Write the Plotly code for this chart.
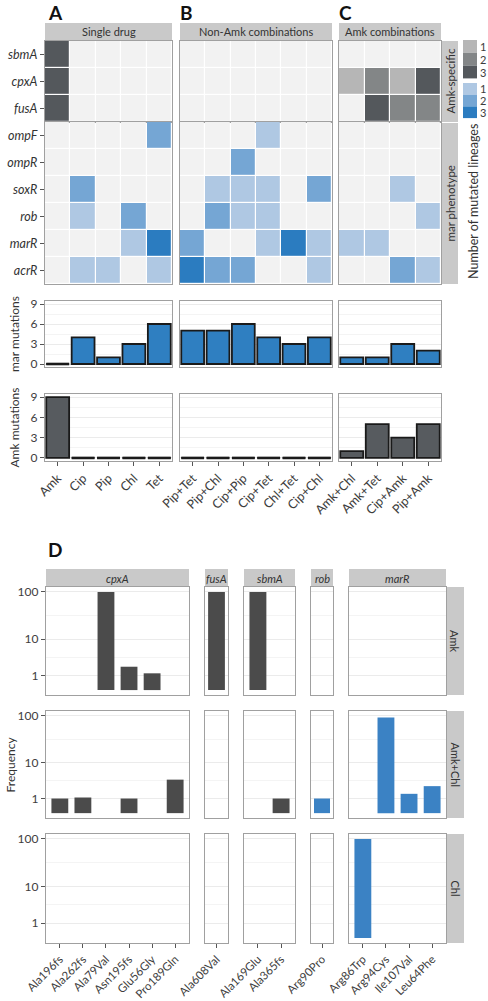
import numpy as np
import plotly.graph_objects as go

W, H = 488, 1001
FONT = "Lato"

# ---------------- data: panels A-C ----------------
single_drugs = ["Amk", "Cip", "Pip", "Chl", "Tet"]
nonamk_combos = ["Pip+Tet", "Pip+Chl", "Cip+Pip", "Cip+Tet", "Chl+Tet", "Cip+Chl"]
amk_combos = ["Amk+Chl", "Amk+Tet", "Cip+Amk", "Pip+Amk"]

amk_genes = ["sbmA", "cpxA", "fusA"]
mar_genes = ["ompF", "ompR", "soxR", "rob", "marR", "acrR"]

# number of mutated lineages (rows = genes, columns = treatments)
amk_single = [[3, 0, 0, 0, 0],
              [3, 0, 0, 0, 0],
              [3, 0, 0, 0, 0]]
mar_single = [[0, 0, 0, 0, 2],
              [0, 0, 0, 0, 0],
              [0, 2, 0, 0, 0],
              [0, 1, 0, 2, 0],
              [0, 0, 0, 1, 3],
              [0, 1, 1, 0, 1]]
amk_nonamk = [[0, 0, 0, 0, 0, 0],
              [0, 0, 0, 0, 0, 0],
              [0, 0, 0, 0, 0, 0]]
mar_nonamk = [[0, 0, 0, 1, 0, 0],
              [0, 0, 2, 0, 0, 0],
              [0, 1, 1, 1, 0, 2],
              [0, 2, 1, 1, 0, 0],
              [2, 0, 0, 1, 3, 1],
              [3, 2, 2, 0, 0, 1]]
amk_amkcombo = [[0, 0, 0, 0],
                [1, 2, 1, 3],
                [0, 3, 2, 2]]
mar_amkcombo = [[0, 0, 0, 0],
                [0, 0, 0, 0],
                [0, 0, 1, 0],
                [0, 0, 0, 1],
                [1, 1, 0, 0],
                [0, 0, 2, 1]]

mar_mut_single = [0, 4, 1, 3, 6]
mar_mut_nonamk = [5, 5, 6, 4, 3, 4]
mar_mut_amkcombo = [1, 1, 3, 2]
amk_mut_single = [9, 0, 0, 0, 0]
amk_mut_nonamk = [0, 0, 0, 0, 0, 0]
amk_mut_amkcombo = [1, 5, 3, 5]

bar_ticks = [0, 3, 6, 9]
legend_levels = [1, 2, 3]

# ---------------- data: panel D ----------------
d_rows = ["Amk", "Amk+Chl", "Chl"]
freq_ticks = [1, 10, 100]

cpxA_mutations = ["Ala196fs", "Ala262fs", "Ala79Val", "Asn195fs", "Glu56Gly", "Pro189Gln"]
cpxA_amk = [0, 0, 100, 2.0, 1.2, 0]
cpxA_amkchl = [1.0, 1.1, 0, 1.0, 0, 3.9]
cpxA_chl = [0, 0, 0, 0, 0, 0]

fusA_mutations = ["Ala608Val"]
fusA_amk = [100]
fusA_amkchl = [0]
fusA_chl = [0]

sbmA_mutations = ["Ala169Glu", "Ala365fs"]
sbmA_amk = [100, 0]
sbmA_amkchl = [0, 1.0]
sbmA_chl = [0, 0]

rob_mutations = ["Arg90Pro"]
rob_amk = [0]
rob_amkchl = [1.0]
rob_chl = [0]

marR_mutations = ["Arg86Trp", "Arg94Cys", "Ile107Val", "Leu64Phe"]
marR_amk = [0, 0, 0, 0]
marR_amkchl = [0, 93, 1.5, 2.6]
marR_chl = [100, 0, 0, 0]

# ---------------- styles ----------------
GRAY_SCALE = ["#f2f2f2", "#b6b6b6", "#838687", "#54585c"]
BLUE_SCALE = ["#f2f2f2", "#afc8e3", "#75a6d4", "#2b7cc0"]
BAR_BLUE = "#2f7fc1"
BAR_GRAY = "#575b5f"
D_GRAY = "#4b4b4b"
D_BLUE = "#3b82c4"
STRIP_FILL = "#c9c9c9"
BORDER = "#a0a0a0"
TXT = "#3d3d3d"
GRID = "#ebebeb"
GRID_MINOR = "#f4f4f4"

# pixel geometry
TOP_COLS = [(45, 172), (180, 332), (339, 441)]
HM_AMK_Y = (41, 122)
HM_MAR_Y = (122, 284)
BAR_MAR_Y = (301, 367)
BAR_AMK_Y = (394, 461)
TOP_STRIP_Y = (23, 40)
TOP_RSTRIP_X = (442, 458)

D_COLS = [(46, 189), (205, 228), (244, 295), (311, 333), (349, 446)]
D_ROWS = [(587, 695), (711, 818), (834, 943)]
D_STRIP_Y = (569, 587)
D_RSTRIP_X = (446, 464)

fig = go.Figure()
layout = {}
shapes = []
annotations = []
counter = [0]


def fx(p):
    return p / W


def fy(p):
    return 1 - p / H


def add_axes(xpx, ypx, xopts, yopts):
    counter[0] += 1
    n = counter[0]
    s = "" if n == 1 else str(n)
    base = dict(showline=True, mirror=True, linecolor=BORDER, linewidth=1.3,
                zeroline=False, showgrid=False, fixedrange=True, ticks="", automargin=False,
                showticklabels=False, ticklen=4, tickcolor="#555555", tickwidth=1,
                tickfont=dict(family=FONT, size=12, color=TXT))
    xa = dict(base)
    xa.update(domain=[fx(xpx[0]), fx(xpx[1])], anchor="y" + s)
    xa.update(xopts)
    ya = dict(base)
    ya.update(domain=[fy(ypx[1]), fy(ypx[0])], anchor="x" + s)
    ya.update(yopts)
    layout["xaxis" + s] = xa
    layout["yaxis" + s] = ya
    return "x" + s, "y" + s


def discrete_scale(cols):
    n = len(cols)
    cs = []
    for i, c in enumerate(cols):
        cs.append([i / n, c])
        cs.append([(i + 1) / n, c])
    return cs


def heat(xa, ya, z, cols):
    z = np.array(z)
    r, c = z.shape
    fig.add_trace(go.Heatmap(z=z, x=list(range(c)), y=list(range(r)), xaxis=xa, yaxis=ya,
                             zmin=-0.5, zmax=len(cols) - 0.5, colorscale=discrete_scale(cols),
                             showscale=False, xgap=1.2, ygap=1.2, hoverinfo="skip"))


def bars(xa, ya, vals, color, width=0.9):
    x = list(range(len(vals)))
    fig.add_trace(go.Bar(x=x, y=vals, width=width,
                         marker=dict(color=color, line=dict(color="#1a1a1a", width=1.8)),
                         xaxis=xa, yaxis=ya, hoverinfo="skip", showlegend=False))
    zx, zy = [], []
    for i, v in enumerate(vals):
        if v == 0:
            zx += [i - width / 2, i + width / 2, None]
            zy += [v, v, None]
    if zx:
        fig.add_trace(go.Scatter(x=zx, y=zy, mode="lines", line=dict(color="#1a1a1a", width=2.6),
                                 xaxis=xa, yaxis=ya, hoverinfo="skip", showlegend=False))


def strip(x0, x1, y0, y1, text, angle=0, italic=False, size=11):
    shapes.append(dict(type="rect", xref="paper", yref="paper", x0=fx(x0), x1=fx(x1),
                       y0=fy(y1), y1=fy(y0), fillcolor=STRIP_FILL, line=dict(width=0), layer="below"))
    t = f"<i>{text}</i>" if italic else text
    annotations.append(dict(xref="paper", yref="paper", x=fx((x0 + x1) / 2), y=fy((y0 + y1) / 2),
                            text=t, showarrow=False, textangle=angle, xanchor="center", yanchor="middle",
                            font=dict(family=FONT, size=size, color="#333333")))


def label(x, y, text, size=12, angle=0, bold=False, xanchor="center", color="#333333"):
    t = f"<b>{text}</b>" if bold else text
    annotations.append(dict(xref="paper", yref="paper", x=fx(x), y=fy(y), text=t, showarrow=False,
                            textangle=angle, xanchor=xanchor, yanchor="middle",
                            font=dict(family=FONT, size=size, color=color)))


# ---------------- panels A-C ----------------
top_groups = [
    (single_drugs, amk_single, mar_single, mar_mut_single, amk_mut_single, "Single drug", "A"),
    (nonamk_combos, amk_nonamk, mar_nonamk, mar_mut_nonamk, amk_mut_nonamk, "Non-Amk combinations", "B"),
    (amk_combos, amk_amkcombo, mar_amkcombo, mar_mut_amkcombo, amk_mut_amkcombo, "Amk combinations", "C"),
]
gene_font = dict(family=FONT, size=12.5, color="#333333")

for gi, (cats, amk_z, mar_z, marm, amkm, title, letter) in enumerate(top_groups):
    x0, x1 = TOP_COLS[gi]
    n = len(cats)
    first = gi == 0
    xr = [-0.5, n - 0.5]

    xa, ya = add_axes((x0, x1), HM_AMK_Y, dict(range=xr),
                      dict(range=[len(amk_genes) - 0.5, -0.5], tickvals=list(range(len(amk_genes))),
                           ticktext=[f"<i>{g}</i>" for g in amk_genes], showticklabels=first,
                           ticks="outside" if first else "", tickfont=gene_font))
    heat(xa, ya, amk_z, GRAY_SCALE)

    xa, ya = add_axes((x0, x1), HM_MAR_Y, dict(range=xr),
                      dict(range=[len(mar_genes) - 0.5, -0.5], tickvals=list(range(len(mar_genes))),
                           ticktext=[f"<i>{g}</i>" for g in mar_genes], showticklabels=first,
                           ticks="outside" if first else "", tickfont=gene_font))
    heat(xa, ya, mar_z, BLUE_SCALE)

    ybar = dict(range=[-0.45, 9.45], tickvals=bar_ticks, showgrid=True, gridcolor=GRID, gridwidth=1,
                minor=dict(tickvals=[1.5, 4.5, 7.5], showgrid=True, gridcolor=GRID_MINOR, ticks=""),
                showticklabels=first, ticks="outside" if first else "")
    xa, ya = add_axes((x0, x1), BAR_MAR_Y, dict(range=xr), ybar)
    bars(xa, ya, marm, BAR_BLUE)

    xa, ya = add_axes((x0, x1), BAR_AMK_Y,
                      dict(range=xr, tickvals=list(range(n)), ticktext=cats, tickangle=-45,
                           showticklabels=True, ticks="outside",
                           tickfont=dict(family=FONT, size=12.5, color=TXT)), ybar)
    bars(xa, ya, amkm, BAR_GRAY)

    strip(x0, x1, TOP_STRIP_Y[0], TOP_STRIP_Y[1], title)
    label(x0 + (10 if gi == 0 else 6), 12, letter, size=19, bold=True, color="#111111")

strip(TOP_RSTRIP_X[0], TOP_RSTRIP_X[1], HM_AMK_Y[0], HM_AMK_Y[1], "Amk-specific", angle=-90, size=11.5)
strip(TOP_RSTRIP_X[0], TOP_RSTRIP_X[1], HM_MAR_Y[0] + 1, HM_MAR_Y[1], "mar phenotype", angle=-90, size=11.5)

label(14, (BAR_MAR_Y[0] + BAR_MAR_Y[1]) / 2, "mar mutations", size=12, angle=-90)
label(14, (BAR_AMK_Y[0] + BAR_AMK_Y[1]) / 2, "Amk mutations", size=12, angle=-90)

# legend (colour keys)
LEG_X = (463, 477)
for blk, (cols, ytop, hstep) in enumerate([(GRAY_SCALE, 40, 12.8), (BLUE_SCALE, 83, 11.7)]):
    for k, lev in enumerate(legend_levels):
        y0 = ytop + k * hstep
        shapes.append(dict(type="rect", xref="paper", yref="paper", x0=fx(LEG_X[0]), x1=fx(LEG_X[1]),
                           y0=fy(y0 + hstep), y1=fy(y0), fillcolor=cols[lev], line=dict(width=0)))
        label(483, y0 + hstep / 2, str(lev), size=11, xanchor="center", color=TXT)
label(473, 202, "Number of mutated lineages", size=12.5, angle=-90)

# ---------------- panel D ----------------
d_cols = [
    ("cpxA", cpxA_mutations, [cpxA_amk, cpxA_amkchl, cpxA_chl], D_GRAY),
    ("fusA", fusA_mutations, [fusA_amk, fusA_amkchl, fusA_chl], D_GRAY),
    ("sbmA", sbmA_mutations, [sbmA_amk, sbmA_amkchl, sbmA_chl], D_GRAY),
    ("rob", rob_mutations, [rob_amk, rob_amkchl, rob_chl], D_BLUE),
    ("marR", marR_mutations, [marR_amk, marR_amkchl, marR_chl], D_BLUE),
]


def tr(v):
    return np.log10(np.asarray(v, dtype=float) + 1)


ymax = max(tr(v).max() for _, _, rows, _ in d_cols for v in rows)
pad = 0.05 * ymax
yr_d = [-pad, ymax + pad]
major = tr(freq_ticks)
minor_d = [(major[i] + major[i + 1]) / 2 for i in range(len(major) - 1)]

for ci, (gene, muts, rows, color) in enumerate(d_cols):
    x0, x1 = D_COLS[ci]
    n = len(muts)
    xr = [-0.5, 0.5] if n == 1 else [-0.6, n - 0.4]
    for ri, vals in enumerate(rows):
        last = ri == len(rows) - 1
        xa, ya = add_axes((x0, x1), D_ROWS[ri],
                          dict(range=xr, tickvals=list(range(n)), ticktext=muts, tickangle=-45,
                               showticklabels=last, ticks="outside" if last else "",
                               tickfont=dict(family=FONT, size=11.5, color=TXT)),
                          dict(range=yr_d, tickvals=list(major), ticktext=[str(t) for t in freq_ticks],
                               showticklabels=ci == 0, ticks="outside" if ci == 0 else "",
                               showgrid=True, gridcolor=GRID,
                               minor=dict(tickvals=minor_d, showgrid=True, gridcolor=GRID_MINOR, ticks="")))
        fig.add_trace(go.Bar(x=list(range(n)), y=tr(vals), width=0.73, marker=dict(color=color, line=dict(width=0)),
                             xaxis=xa, yaxis=ya, hoverinfo="skip", showlegend=False))
    strip(x0, x1, D_STRIP_Y[0], D_STRIP_Y[1], gene, italic=True, size=11)

for ri, name in enumerate(d_rows):
    strip(D_RSTRIP_X[0], D_RSTRIP_X[1], D_ROWS[ri][0], D_ROWS[ri][1], name, angle=90, size=11)

label(55, 549, "D", size=19, bold=True, color="#111111")
label(10, (D_ROWS[1][0] + D_ROWS[1][1]) / 2, "Frequency", size=12, angle=-90)

layout.update(width=W, height=H, margin=dict(l=0, r=0, t=0, b=0, autoexpand=False), showlegend=False,
              paper_bgcolor="white", plot_bgcolor="white", shapes=shapes, annotations=annotations,
              font=dict(family=FONT, color=TXT), barmode="overlay")
fig.update_layout(**layout)
fig.write_html("out.html", config={"displayModeBar": False},
               post_script="document.body.style.margin='0px';")
